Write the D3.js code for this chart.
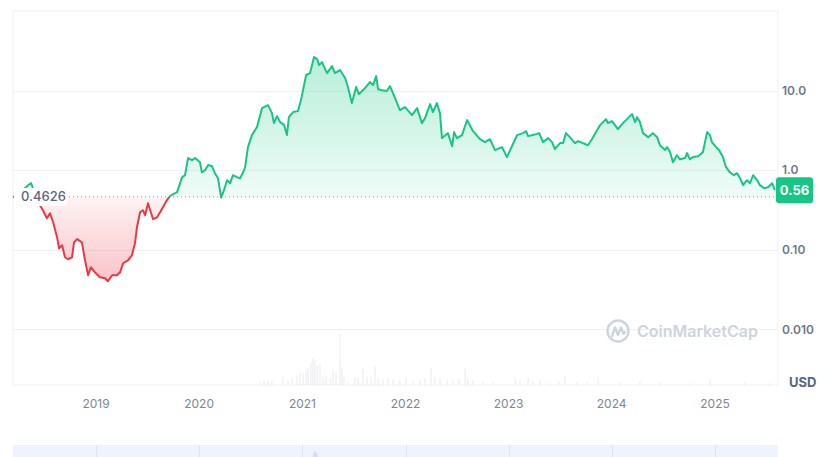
<!DOCTYPE html>
<html>
<head>
<meta charset="utf-8">
<script src="https://cdn.jsdelivr.net/npm/d3@7"></script>
<style>
  body { margin: 0; background: #fff; font-family: Inter, "Noto Sans", sans-serif; }
</style>
</head>
<body>
<div id="chart"></div>
<script>
// price history (USD, log scale)
const priceDates = [
  "2018-03-13","2018-03-24","2018-04-07","2018-05-02","2018-05-16","2018-06-03","2018-06-17","2018-06-27","2018-07-11","2018-07-22",
  "2018-08-02","2018-08-16","2018-08-23","2018-09-03","2018-09-13","2018-09-24","2018-10-08","2018-10-15","2018-10-26","2018-11-12",
  "2018-11-23","2018-12-04","2018-12-14","2018-12-28","2019-01-15","2019-02-02","2019-02-12","2019-02-27","2019-03-16","2019-03-27",
  "2019-04-07","2019-04-24","2019-05-08","2019-05-19","2019-05-26","2019-06-06","2019-06-16","2019-06-24","2019-07-04","2019-07-22",
  "2019-08-05","2019-08-16","2019-08-26","2019-09-09","2019-09-20","2019-10-01","2019-10-15","2019-11-02","2019-11-12","2019-11-23",
  "2019-12-07","2019-12-18","2020-01-04","2020-01-11","2020-01-22","2020-02-02","2020-02-16","2020-02-26","2020-03-08","2020-03-19",
  "2020-03-29","2020-04-09","2020-04-20","2020-04-30","2020-05-14","2020-05-25","2020-06-05","2020-06-12","2020-06-22","2020-07-06",
  "2020-07-24","2020-08-11","2020-09-01","2020-09-15","2020-09-22","2020-10-03","2020-10-14","2020-10-28","2020-11-07","2020-11-14",
  "2020-11-29","2020-12-16","2020-12-27","2021-01-03","2021-01-14","2021-01-28","2021-02-11","2021-02-22","2021-03-01","2021-03-11",
  "2021-03-29","2021-04-16","2021-04-26","2021-05-14","2021-06-01","2021-06-11","2021-06-25","2021-07-10","2021-07-20","2021-08-11",
  "2021-08-28","2021-09-08","2021-09-19","2021-09-26","2021-10-10","2021-10-27","2021-11-07","2021-11-25","2021-12-12","2021-12-30",
  "2022-01-24","2022-02-11","2022-02-28","2022-03-11","2022-03-29","2022-04-08","2022-04-22","2022-05-03","2022-05-10","2022-05-31",
  "2022-06-15","2022-06-22","2022-07-02","2022-07-20","2022-08-07","2022-08-28","2022-09-22","2022-10-09","2022-10-27","2022-11-14",
  "2022-12-09","2022-12-26","2023-01-13","2023-01-31","2023-02-21","2023-03-04","2023-03-11","2023-03-28","2023-04-19","2023-05-03",
  "2023-05-21","2023-06-04","2023-06-14","2023-07-02","2023-07-13","2023-07-23","2023-08-06","2023-08-24","2023-09-04","2023-09-21",
  "2023-10-09","2023-10-23","2023-11-10","2023-11-21","2023-12-12","2023-12-19","2024-01-02","2024-01-13","2024-01-23","2024-02-10",
  "2024-02-28","2024-03-13","2024-03-24","2024-03-31","2024-04-10","2024-04-21","2024-05-09","2024-05-26","2024-06-10","2024-06-20",
  "2024-07-08","2024-07-15","2024-07-26","2024-08-05","2024-08-19","2024-08-30","2024-09-17","2024-09-24","2024-10-04","2024-10-15",
  "2024-11-02","2024-11-19","2024-12-04","2024-12-14","2024-12-21","2025-01-08","2025-01-15","2025-01-29","2025-02-09","2025-02-23",
  "2025-03-09","2025-03-20","2025-03-31","2025-04-10","2025-04-24","2025-05-05","2025-05-16","2025-05-30","2025-06-09","2025-06-24",
  "2025-07-08","2025-07-22","2025-08-01"
];
const priceValues = [
  0.47,0.45,0.53,0.63,0.69,0.46,0.36,0.314,0.249,0.288,
  0.222,0.144,0.104,0.114,0.0805,0.076,0.0805,0.124,0.136,0.124,
  0.0738,0.0478,0.0603,0.0521,0.0451,0.0438,0.0402,0.0478,0.0478,0.0521,
  0.0677,0.0738,0.0853,0.121,0.192,0.296,0.314,0.272,0.385,0.242,
  0.256,0.296,0.342,0.42,0.471,0.50,0.529,0.817,0.865,1.42,
  1.34,1.42,1.26,0.94,1.00,1.16,1.12,0.917,0.793,0.455,
  0.56,0.748,0.686,0.865,0.817,0.793,0.94,1.09,1.95,2.76,
  3.48,6.02,6.57,5.21,3.90,4.78,4.02,3.68,2.76,4.64,
  5.37,5.52,7.60,10.1,15.7,16.6,26.4,24.9,20.9,22.8,
  16.6,20.3,16.6,18.1,14.4,11.1,6.96,11.1,9.04,10.8,
  12.8,11.7,15.2,10.4,10.1,9.86,11.4,8.05,5.69,6.20,
  4.92,6.02,3.90,4.51,6.76,5.37,6.96,5.21,2.53,2.92,
  2.00,3.01,2.53,2.76,4.26,3.09,2.45,2.25,2.45,1.79,
  1.95,1.46,2.00,2.76,2.92,3.09,2.68,2.76,2.92,2.25,
  2.53,2.25,1.84,2.19,2.19,2.92,2.60,2.19,2.32,2.19,
  2.06,2.45,3.18,3.68,4.38,3.90,4.13,3.68,3.28,3.90,
  4.51,5.06,4.02,4.64,4.02,2.92,2.60,2.92,2.60,2.06,
  1.79,1.95,1.68,1.26,1.54,1.37,1.42,1.64,1.37,1.46,
  1.50,1.68,3.01,2.76,2.25,1.89,1.79,1.46,1.09,0.94,
  0.865,0.917,0.793,0.648,0.748,0.686,0.865,0.748,0.648,0.594,
  0.611,0.686,0.56
];

// trading volume (millions USD, rough)
const volumeDates = [
  "2020-08-04","2020-08-18","2020-09-01","2020-09-15","2020-10-24","2020-11-11","2020-11-25","2020-12-13","2020-12-23","2021-01-03",
  "2021-01-14","2021-01-21","2021-01-31","2021-02-07","2021-02-14","2021-02-22","2021-03-04","2021-03-15","2021-03-25","2021-04-09",
  "2021-04-19","2021-04-30","2021-05-14","2021-05-21","2021-05-28","2021-06-11","2021-07-06","2021-07-17","2021-08-03","2021-08-18",
  "2021-09-01","2021-09-15","2021-09-26","2021-10-13","2021-10-31","2021-11-18","2021-12-12","2022-01-03","2022-01-28","2022-02-21",
  "2022-03-11","2022-04-01","2022-04-15","2022-05-03","2022-05-28","2022-06-18","2022-07-09","2022-07-31","2022-08-10","2022-08-28",
  "2022-10-02","2022-11-07","2023-01-24","2023-02-10","2023-03-11","2023-03-28","2023-04-22","2023-05-28","2023-06-28","2023-07-20",
  "2023-08-31","2023-10-06","2023-11-14","2024-01-30","2024-04-10","2024-06-20","2024-10-04","2024-12-14","2025-04-17","2025-07-15"
];
const volumeValues = [
  30,40,50,40,90,50,70,100,130,120,
  150,180,230,280,260,200,220,80,100,70,
  150,130,530,180,80,30,80,80,170,80,
  80,190,70,60,70,60,50,80,40,50,
  70,180,80,70,50,60,70,170,80,50,
  30,30,80,50,80,40,50,20,40,90,
  30,30,80,30,40,30,20,50,30,20
];

const yTicks = [0.01, 0.1, 1, 10];
const yTickLabels = ["0.010", "0.10", "1.0", "10.0"];
const xTickYears = [2019, 2020, 2021, 2022, 2023, 2024, 2025];
const startDate = "2018-03-13", endDate = "2025-08-12";
const basePrice = 0.4626;
const lastPrice = 0.56;

const width = 835, height = 457;
const plot = {left: 13, right: 778, top: 11, bottom: 385};
const green = "#16c784", red = "#ea3943";

const parse = d3.timeParse("%Y-%m-%d");
const data = priceDates.map(function(d, i) { return {date: parse(d), value: priceValues[i]}; });
const vol = volumeDates.map(function(d, i) { return {date: parse(d), value: volumeValues[i]}; });

const svg = d3.select("#chart")
  .append("svg")
    .attr("width", width)
    .attr("height", height);

const x = d3.scaleTime()
  .domain([parse(startDate), parse(endDate)])
  .range([plot.left, plot.right]);

const y = d3.scaleLog()
  .domain([0.002, 100])
  .range([plot.bottom, plot.top]);

const yv = d3.scaleLinear()
  .domain([0, 560])
  .range([plot.bottom, plot.bottom - 54]);

const yBase = y(basePrice);

// gradients + clips
const defs = svg.append("defs");
const gUp = defs.append("linearGradient").attr("id", "gUp")
  .attr("gradientUnits", "userSpaceOnUse")
  .attr("x1", 0).attr("x2", 0).attr("y1", y(26)).attr("y2", yBase);
gUp.append("stop").attr("offset", 0).attr("stop-color", green).attr("stop-opacity", 0.3);
gUp.append("stop").attr("offset", 1).attr("stop-color", green).attr("stop-opacity", 0.07);

const gDown = defs.append("linearGradient").attr("id", "gDown")
  .attr("gradientUnits", "userSpaceOnUse")
  .attr("x1", 0).attr("x2", 0).attr("y1", yBase).attr("y2", y(0.04));
gDown.append("stop").attr("offset", 0).attr("stop-color", red).attr("stop-opacity", 0.06);
gDown.append("stop").attr("offset", 1).attr("stop-color", red).attr("stop-opacity", 0.3);

defs.append("clipPath").attr("id", "clipUp")
  .append("rect").attr("x", 0).attr("y", 0).attr("width", width).attr("height", yBase);
defs.append("clipPath").attr("id", "clipDown")
  .append("rect").attr("x", 0).attr("y", yBase).attr("width", width).attr("height", height - yBase);

// frame
svg.append("rect")
  .attr("x", plot.left).attr("y", plot.top)
  .attr("width", plot.right - plot.left).attr("height", plot.bottom - plot.top)
  .attr("fill", "none").attr("stroke", "#eef0f3").attr("stroke-width", 1);

// horizontal grid
svg.selectAll(".grid")
  .data(yTicks)
  .enter()
  .append("line")
    .attr("x1", plot.left).attr("x2", plot.right)
    .attr("y1", function(d) { return Math.round(y(d)) + 0.5; })
    .attr("y2", function(d) { return Math.round(y(d)) + 0.5; })
    .attr("stroke", "#eff1f4");

// volume bars
svg.selectAll(".vol")
  .data(vol)
  .enter()
  .append("rect")
    .attr("x", function(d) { return x(d.date) - 0.6; })
    .attr("y", function(d) { return yv(d.value); })
    .attr("width", 1.2)
    .attr("height", function(d) { return plot.bottom - yv(d.value); })
    .attr("fill", "#eaedf1");

// watermark
const wm = svg.append("g").attr("transform", "translate(618,331)");
wm.append("circle").attr("r", 10.5).attr("fill", "none").attr("stroke", "#ced4de").attr("stroke-width", 2.4);
wm.append("path")
  .attr("d", "M-6,5 L-3,-3.5 L0,4 L3,-3.5 L5.5,3 L7,1")
  .attr("fill", "none").attr("stroke", "#ced4de").attr("stroke-width", 2.4)
  .attr("stroke-linejoin", "round").attr("stroke-linecap", "round");
svg.append("text")
  .attr("x", 637).attr("y", 337)
  .style("font-size", "16px").style("font-weight", 600)
  .attr("fill", "#ced4de")
  .text("CoinMarketCap");

// price area + line
const area = d3.area()
  .x(function(d) { return x(d.date); })
  .y0(yBase)
  .y1(function(d) { return y(d.value); });
const line = d3.line()
  .x(function(d) { return x(d.date); })
  .y(function(d) { return y(d.value); });

svg.append("path").datum(data)
  .attr("clip-path", "url(#clipUp)")
  .attr("fill", "url(#gUp)")
  .attr("d", area);
svg.append("path").datum(data)
  .attr("clip-path", "url(#clipDown)")
  .attr("fill", "url(#gDown)")
  .attr("d", area);

// baseline dotted
svg.append("line")
  .attr("x1", plot.left).attr("x2", plot.right - 3)
  .attr("y1", yBase).attr("y2", yBase)
  .attr("stroke", "#8f98a8").attr("stroke-width", 1)
  .attr("stroke-dasharray", "1,3");

svg.append("path").datum(data)
  .attr("clip-path", "url(#clipUp)")
  .attr("fill", "none").attr("stroke", green).attr("stroke-width", 2)
  .attr("stroke-linejoin", "round")
  .attr("d", line);
svg.append("path").datum(data)
  .attr("clip-path", "url(#clipDown)")
  .attr("fill", "none").attr("stroke", red).attr("stroke-width", 2)
  .attr("stroke-linejoin", "round")
  .attr("d", line);

// y axis labels (right)
svg.selectAll(".ylab")
  .data(yTicks)
  .enter()
  .append("text")
    .attr("x", 782)
    .attr("y", function(d) { return y(d); })
    .attr("dy", "0.35em")
    .style("font-size", "12px").style("font-weight", 600)
    .attr("fill", "#6f778a")
    .text(function(d, i) { return yTickLabels[i]; });

svg.append("text")
  .attr("x", 789).attr("y", 382).attr("dy", "0.35em")
  .style("font-size", "13px").style("font-weight", 700)
  .attr("fill", "#58667e")
  .text("USD");

// x axis years
svg.selectAll(".xlab")
  .data(xTickYears)
  .enter()
  .append("text")
    .attr("x", function(d) { return x(new Date(d, 0, 1)); })
    .attr("y", 404).attr("dy", "0.35em")
    .style("text-anchor", "middle")
    .style("font-size", "12px")
    .attr("fill", "#7d8699")
    .text(function(d) { return d; });

// baseline label
svg.append("rect")
  .attr("x", 14).attr("y", 188).attr("width", 53).attr("height", 18).attr("rx", 4)
  .attr("fill", "#fff");
svg.append("text")
  .attr("x", 21).attr("y", yBase).attr("dy", "0.35em")
  .style("font-size", "13px").style("font-weight", 500)
  .attr("fill", "#58667e")
  .text(basePrice);

// last price badge
svg.append("rect")
  .attr("x", 776).attr("y", y(lastPrice) - 13).attr("width", 37).attr("height", 26).attr("rx", 3)
  .attr("fill", green);
svg.append("text")
  .attr("x", 794.5).attr("y", y(lastPrice)).attr("dy", "0.35em")
  .style("text-anchor", "middle")
  .style("font-size", "13px").style("font-weight", 700)
  .attr("fill", "#fff")
  .text(lastPrice);

// navigator strip at the bottom
const navY = d3.scaleLinear().domain([0, 26.4]).range([490, 451]);
svg.append("rect")
  .attr("x", plot.left).attr("y", 445)
  .attr("width", plot.right - plot.left).attr("height", 20)
  .attr("fill", "#eef3fd");
svg.append("path").datum(data)
  .attr("fill", "#d7def0")
  .attr("d", d3.area()
    .x(function(d) { return x(d.date); })
    .y0(height + 10)
    .y1(function(d) { return navY(d.value); }));
svg.selectAll(".navdiv")
  .data(xTickYears)
  .enter()
  .append("line")
    .attr("x1", function(d) { return Math.round(x(new Date(d, 0, 1))) + 0.5; })
    .attr("x2", function(d) { return Math.round(x(new Date(d, 0, 1))) + 0.5; })
    .attr("y1", 445).attr("y2", height)
    .attr("stroke", "#dde4f2");
</script>
</body>
</html>
